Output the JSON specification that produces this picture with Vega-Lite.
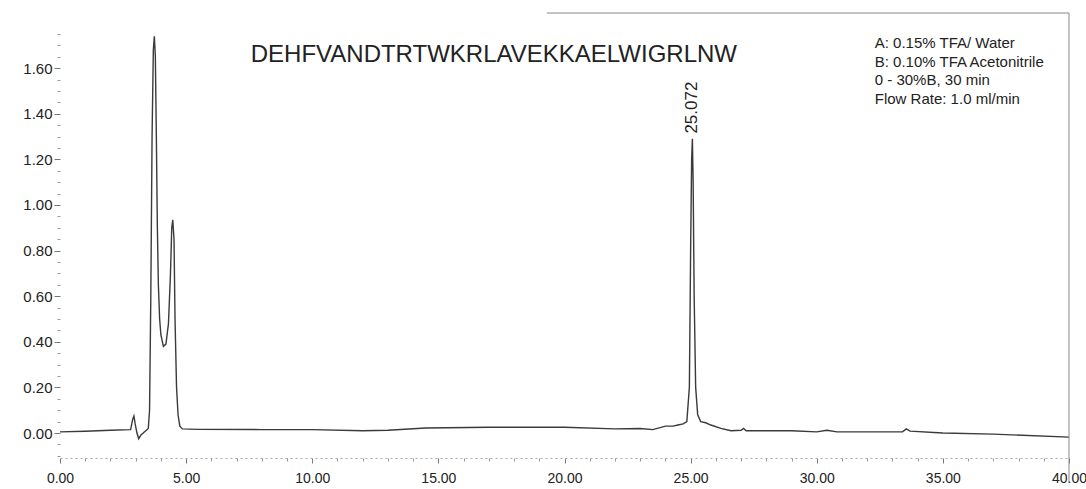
{
  "$schema": "https://vega.github.io/schema/vega-lite/v6.json",
  "width": 1009,
  "height": 445,
  "autosize": "none",
  "padding": {"left": 60, "top": 13, "right": 17, "bottom": 31},
  "background": "white",
  "config": {"view": {"stroke": null}, "font": "Liberation Sans"},
  "resolve": {"axis": {"x": "independent", "y": "independent"}},
  "datasets": {
    "trace": [
      {"t": 0, "v": 0.005}, {"t": 1, "v": 0.008}, {"t": 2, "v": 0.012}, {"t": 2.8, "v": 0.015},
      {"t": 2.88, "v": 0.06}, {"t": 2.93, "v": 0.075}, {"t": 2.98, "v": 0.04}, {"t": 3.05, "v": 0.0},
      {"t": 3.12, "v": -0.025}, {"t": 3.2, "v": -0.01}, {"t": 3.3, "v": 0.0}, {"t": 3.4, "v": 0.01},
      {"t": 3.5, "v": 0.02}, {"t": 3.55, "v": 0.1}, {"t": 3.6, "v": 0.6}, {"t": 3.65, "v": 1.3},
      {"t": 3.7, "v": 1.68}, {"t": 3.74, "v": 1.74}, {"t": 3.78, "v": 1.65}, {"t": 3.82, "v": 1.3},
      {"t": 3.86, "v": 0.9}, {"t": 3.9, "v": 0.65}, {"t": 3.95, "v": 0.5}, {"t": 4.0, "v": 0.43},
      {"t": 4.1, "v": 0.38}, {"t": 4.2, "v": 0.39}, {"t": 4.3, "v": 0.48}, {"t": 4.38, "v": 0.7},
      {"t": 4.43, "v": 0.9}, {"t": 4.47, "v": 0.935}, {"t": 4.52, "v": 0.85}, {"t": 4.56, "v": 0.5},
      {"t": 4.62, "v": 0.2}, {"t": 4.68, "v": 0.08}, {"t": 4.75, "v": 0.03}, {"t": 4.85, "v": 0.018},
      {"t": 5.5, "v": 0.016}, {"t": 8, "v": 0.015}, {"t": 10, "v": 0.015}, {"t": 12, "v": 0.01},
      {"t": 13, "v": 0.012}, {"t": 14.5, "v": 0.022}, {"t": 17, "v": 0.025}, {"t": 20, "v": 0.025},
      {"t": 22, "v": 0.018}, {"t": 23, "v": 0.02}, {"t": 23.5, "v": 0.015}, {"t": 24, "v": 0.03},
      {"t": 24.3, "v": 0.03}, {"t": 24.5, "v": 0.035}, {"t": 24.7, "v": 0.04}, {"t": 24.85, "v": 0.05},
      {"t": 24.95, "v": 0.2}, {"t": 25.0, "v": 0.8}, {"t": 25.04, "v": 1.2}, {"t": 25.07, "v": 1.29},
      {"t": 25.1, "v": 1.1}, {"t": 25.14, "v": 0.6}, {"t": 25.2, "v": 0.2}, {"t": 25.28, "v": 0.08},
      {"t": 25.4, "v": 0.05}, {"t": 25.6, "v": 0.045}, {"t": 25.8, "v": 0.035}, {"t": 26.2, "v": 0.02},
      {"t": 26.6, "v": 0.01}, {"t": 27.0, "v": 0.012}, {"t": 27.1, "v": 0.02}, {"t": 27.2, "v": 0.01},
      {"t": 28, "v": 0.01}, {"t": 29, "v": 0.01}, {"t": 30, "v": 0.005}, {"t": 30.4, "v": 0.012},
      {"t": 30.8, "v": 0.005}, {"t": 32, "v": 0.005}, {"t": 33.4, "v": 0.005}, {"t": 33.55, "v": 0.018},
      {"t": 33.7, "v": 0.008}, {"t": 35, "v": 0.0}, {"t": 37, "v": -0.005}, {"t": 40, "v": -0.018}
    ],
    "notes": [
      {"t": 32.3, "v": 1.711, "label": "A: 0.15% TFA/ Water"},
      {"t": 32.3, "v": 1.629, "label": "B: 0.10% TFA Acetonitrile"},
      {"t": 32.3, "v": 1.548, "label": "0 - 30%B, 30 min"},
      {"t": 32.3, "v": 1.467, "label": "Flow Rate: 1.0 ml/min"}
    ],
    "title": [{"t": 17.2, "v": 1.658, "label": "DEHFVANDTRTWKRLAVEKKAELWIGRLNW"}],
    "peak": [{"t": 25.07, "v": 1.3, "label": "25.072"}],
    "hborder": [{"t": 19.3, "t2": 40, "v": 1.842}],
    "vborder": [{"t": 40, "v": -0.22, "v2": 1.842}]
  },
  "layer": [
    {
      "data": {"name": "trace"},
      "mark": {"type": "line", "color": "#3a3a3a", "strokeWidth": 1.4, "interpolate": "linear"},
      "encoding": {
        "x": {"field": "t", "type": "quantitative", "scale": {"domain": [0, 40], "nice": false},
          "axis": {"values": [0, 5, 10, 15, 20, 25, 30, 35, 40], "format": ".2f", "title": null, "grid": false,
            "orient": "bottom", "domainColor": "#aaaaaa", "domainDash": [2, 3], "tickColor": "#777777", "tickSize": 5,
            "labelFontSize": 14, "labelColor": "#222222", "labelPadding": 8, "labelFlush": false}},
        "y": {"field": "v", "type": "quantitative", "scale": {"domain": [-0.1096, 1.842], "nice": false, "zero": false},
          "axis": {"values": [0, 0.2, 0.4, 0.6, 0.8, 1.0, 1.2, 1.4, 1.6], "format": ".2f", "title": null, "grid": false,
            "orient": "left", "domain": false, "tickColor": "#777777", "tickSize": 6,
            "labelFontSize": 15, "labelColor": "#222222", "labelPadding": 2}}
      }
    },
    {
      "data": {"name": "trace"},
      "mark": {"type": "point", "opacity": 0},
      "encoding": {
        "x": {"field": "t", "type": "quantitative",
          "axis": {"values": [1, 2, 3, 4, 6, 7, 8, 9, 11, 12, 13, 14, 16, 17, 18, 19, 21, 22, 23, 24, 26, 27, 28, 29, 31, 32, 33, 34, 36, 37, 38, 39],
            "labels": false, "domain": false, "grid": false, "title": null, "orient": "bottom", "tickColor": "#999999", "tickSize": 3}},
        "y": {"field": "v", "type": "quantitative",
          "axis": {"values": [-0.1, -0.05, 0.05, 0.1, 0.15, 0.25, 0.3, 0.35, 0.45, 0.5, 0.55, 0.65, 0.7, 0.75, 0.85, 0.9, 0.95, 1.05, 1.1, 1.15, 1.25, 1.3, 1.35, 1.45, 1.5, 1.55, 1.65, 1.7, 1.75],
            "labels": false, "domain": false, "grid": false, "title": null, "orient": "left", "tickColor": "#999999", "tickSize": 3}}
      }
    },
    {
      "data": {"name": "notes"},
      "mark": {"type": "text", "align": "left", "baseline": "middle", "fontSize": 15, "color": "#222222"},
      "encoding": {
        "x": {"field": "t", "type": "quantitative", "axis": null},
        "y": {"field": "v", "type": "quantitative", "axis": null},
        "text": {"field": "label"}
      }
    },
    {
      "data": {"name": "title"},
      "mark": {"type": "text", "align": "center", "baseline": "middle", "fontSize": 24, "color": "#222222"},
      "encoding": {
        "x": {"field": "t", "type": "quantitative", "axis": null},
        "y": {"field": "v", "type": "quantitative", "axis": null},
        "text": {"field": "label"}
      }
    },
    {
      "data": {"name": "peak"},
      "mark": {"type": "text", "align": "left", "baseline": "middle", "angle": 270, "fontSize": 17, "dx": 3, "color": "#222222"},
      "encoding": {
        "x": {"field": "t", "type": "quantitative", "axis": null},
        "y": {"field": "v", "type": "quantitative", "axis": null},
        "text": {"field": "label"}
      }
    },
    {
      "data": {"name": "hborder"},
      "mark": {"type": "rule", "color": "#888888", "strokeWidth": 1, "clip": false},
      "encoding": {
        "x": {"field": "t", "type": "quantitative", "axis": null},
        "x2": {"field": "t2"},
        "y": {"field": "v", "type": "quantitative", "axis": null}
      }
    },
    {
      "data": {"name": "vborder"},
      "mark": {"type": "rule", "color": "#888888", "strokeWidth": 1, "clip": false},
      "encoding": {
        "x": {"field": "t", "type": "quantitative", "axis": null},
        "y": {"field": "v", "type": "quantitative", "axis": null},
        "y2": {"field": "v2"}
      }
    }
  ]
}
